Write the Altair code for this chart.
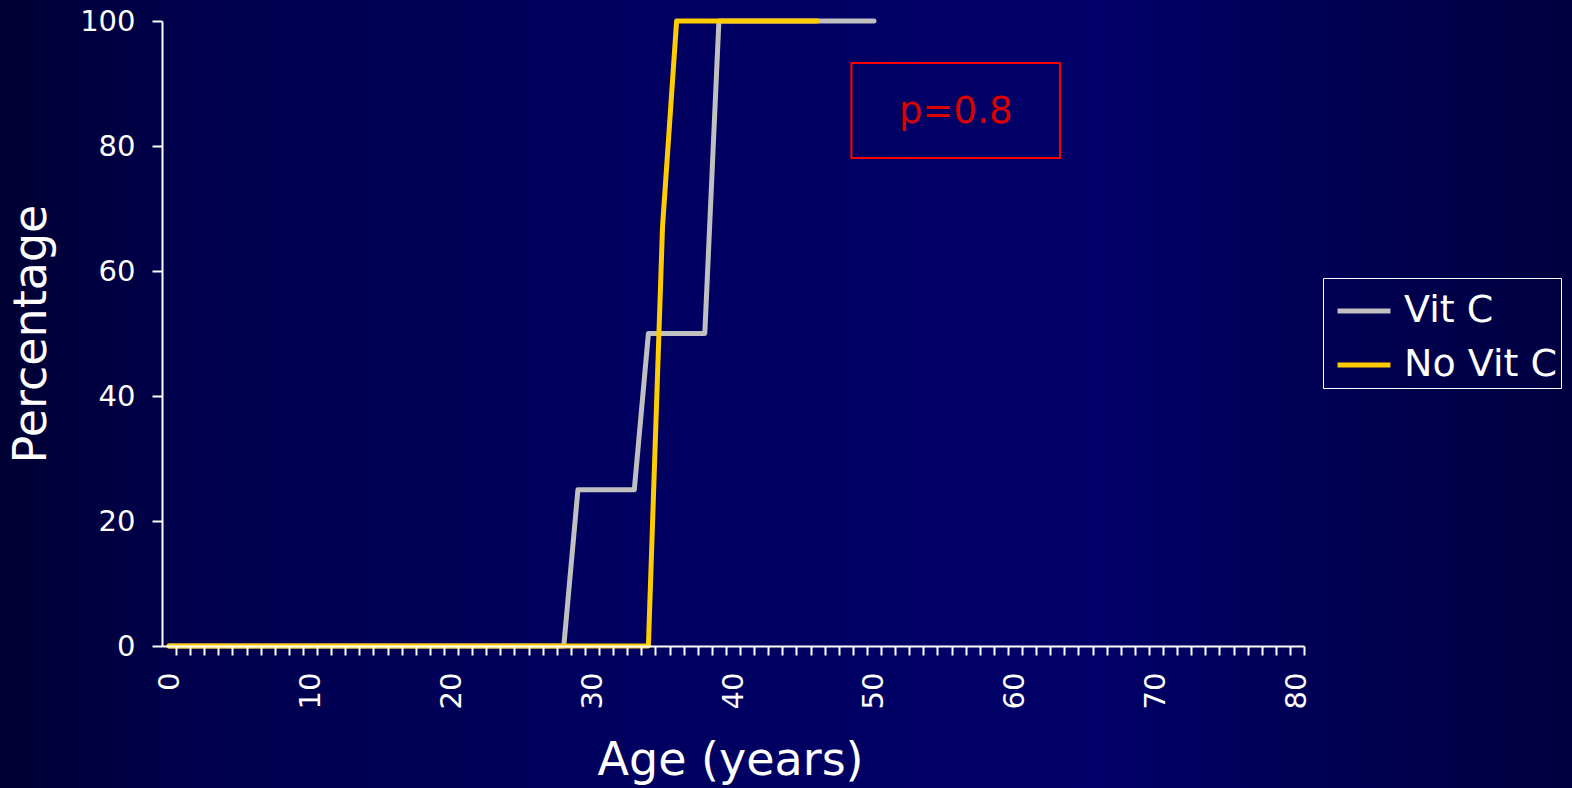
import altair as alt
import pandas as pd

# Cumulative percentage by age, one vertex per change of slope
vitc_age = [0, 28, 29, 33, 34, 38, 39, 50]
vitc_pct = [0, 0, 25, 25, 50, 50, 100, 100]
novitc_age = [0, 34, 35, 36, 46]
novitc_pct = [0, 0, 67, 100, 100]

series_names = ["Vit C", "No Vit C"]
series_colors = ["#c0c0c0", "#ffcc00"]

# p-value box (data units)
pbox = pd.DataFrame({"x": [48.4], "x2": [63.2], "y": [93.3], "y2": [78.1]})
plabel = pd.DataFrame({"x": [55.8], "y": [85.4], "t": ["p=0.8"]})

FONT = "DejaVu Sans"
W, H = 1142, 625
BAND = W / 81.0

vitc = pd.DataFrame({"age": vitc_age, "pct": vitc_pct, "group": "Vit C"})
novitc = pd.DataFrame({"age": novitc_age, "pct": novitc_pct, "group": "No Vit C"})

xscale = alt.Scale(domain=[-0.5, 80.5], nice=False, zero=False)
yscale = alt.Scale(domain=[0, 100], nice=False)
cscale = alt.Scale(domain=series_names, range=series_colors)

xaxis = alt.Axis(
    values=list(range(0, 81)),
    tickCount=200,
    tickOffset=BAND / 2,
    labelOffset=-BAND / 2,
    labelExpr="datum.value % 10 == 0 ? format(datum.value, 'd') : ''",
    labelAngle=270,
    labelAlign="right",
    labelBaseline="middle",
    labelPadding=17,
    labelFontSize=29,
    labelColor="white",
    labelFont=FONT,
    labelOverlap=False,
    labelFlush=False,
    labelBound=False,
    tickSize=9,
    tickWidth=2,
    tickColor="white",
    domainColor="white",
    domainWidth=2,
    grid=False,
    zindex=2,
    title="Age (years)",
    titleFont=FONT,
    titleFontSize=46,
    titleFontWeight="normal",
    titleColor="white",
    titleX=568,
    titleY=128,
    titleAlign="center",
    titleBaseline="alphabetic",
)

yaxis = alt.Axis(
    values=[0, 20, 40, 60, 80, 100],
    labelPadding=17,
    labelFontSize=29,
    labelColor="white",
    labelFont=FONT,
    labelOverlap=False,
    labelFlush=False,
    tickSize=10,
    tickWidth=2,
    tickColor="white",
    domainColor="white",
    domainWidth=2,
    grid=False,
    zindex=2,
    title="Percentage",
    titleFont=FONT,
    titleFontSize=46,
    titleFontWeight="normal",
    titleColor="white",
    titleAngle=270,
    titleX=-117,
    titleY=H / 2,
    titleAlign="center",
    titleBaseline="alphabetic",
)

legend = alt.Legend(
    title=None,
    orient="none",
    legendX=1161,
    legendY=257,
    symbolType="stroke",
    symbolSize=2800,
    symbolStrokeWidth=5,
    symbolOffset=8,
    labelFont=FONT,
    labelFontSize=38,
    labelColor="white",
    labelOffset=11,
    strokeColor="white",
    padding=4,
    rowPadding=6,
    zindex=2,
)

# Slide background: navy with darker edges
bg = alt.Chart(pd.DataFrame({"k": [0]})).mark_rect(
    fill=alt.Gradient(
        gradient="linear",
        stops=[
            alt.GradientStop(color="#000033", offset=0),
            alt.GradientStop(color="#00004e", offset=0.12),
            alt.GradientStop(color="#000060", offset=0.4),
            alt.GradientStop(color="#000068", offset=0.7),
            alt.GradientStop(color="#000040", offset=1),
        ],
        x1=0, x2=1, y1=0, y2=0,
    )
).encode(
    x=alt.value(-162), x2=alt.value(1572 - 162),
    y=alt.value(-21), y2=alt.value(788 - 21),
)

line_style = dict(strokeWidth=5, strokeCap="round", strokeJoin="round")

l1 = alt.Chart(vitc).mark_line(**line_style).encode(
    x=alt.X("age:Q", scale=xscale, axis=xaxis),
    y=alt.Y("pct:Q", scale=yscale, axis=yaxis),
    color=alt.Color("group:N", scale=cscale, legend=legend),
)
l2 = alt.Chart(novitc).mark_line(**line_style).encode(
    x=alt.X("age:Q", scale=xscale),
    y=alt.Y("pct:Q", scale=yscale),
    color=alt.Color("group:N", scale=cscale, legend=legend),
)

box = alt.Chart(pbox).mark_rect(fill=None, fillOpacity=0, stroke="#ff0000", strokeWidth=2).encode(
    x="x:Q", x2="x2:Q", y="y:Q", y2="y2:Q"
)
ptext = alt.Chart(plabel).mark_text(
    font=FONT, fontSize=37, color="#dd0000", align="center", baseline="middle"
).encode(x="x:Q", y="y:Q", text="t:N")

chart = alt.layer(bg, l1, l2, box, ptext).properties(
    width=W,
    height=H,
    padding={"left": 162, "top": 21, "right": 1572 - 162 - W, "bottom": 788 - 21 - H},
    autosize=alt.AutoSizeParams(type="none"),
    background="#000050",
).configure_view(stroke=None)

chart.save("out.html", embed_options={"renderer": "svg", "actions": False})
